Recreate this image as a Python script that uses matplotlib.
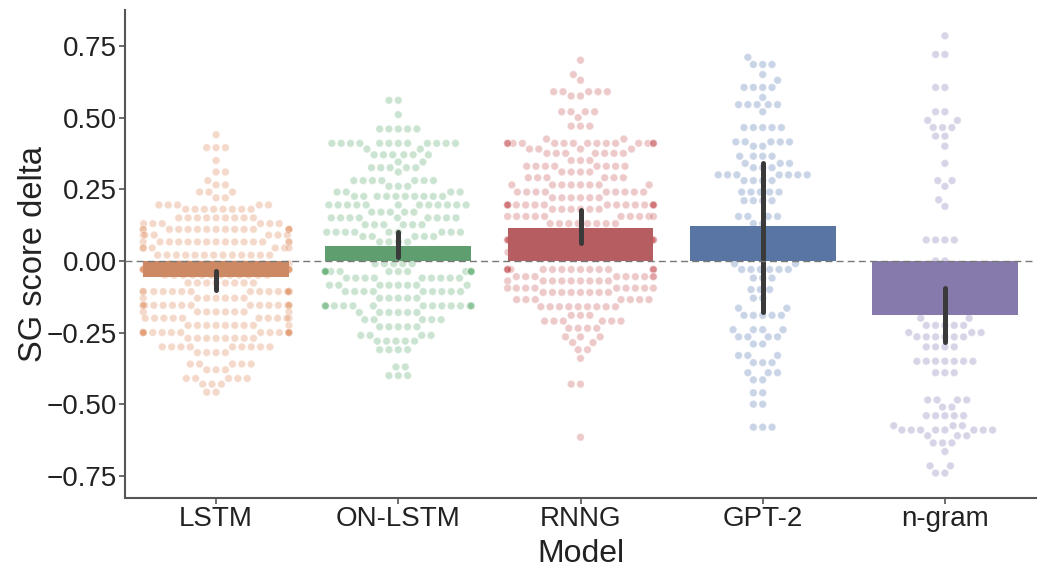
import numpy as np
import pandas as pd
import matplotlib
matplotlib.use("Agg")
import matplotlib.pyplot as plt
import seaborn as sns
import warnings
warnings.filterwarnings("ignore")

models = ["LSTM", "ON-LSTM", "RNNG", "GPT-2", "n-gram"]

# bar heights (mean) and error-bar ends
bar_means = [-0.057, 0.052, 0.115, 0.123, -0.19]
ci_low = [-0.100, 0.015, 0.063, -0.178, -0.283]
ci_high = [-0.037, 0.100, 0.178, 0.343, -0.095]

# swarm rows: value levels and number of points at each level
lstm_vals = [0.44, 0.395, 0.35, 0.31, 0.28, 0.265, 0.24, 0.22, 0.195, 0.18, 0.15, 0.13,
             0.11, 0.09, 0.066, 0.045, 0.02, -0.01, -0.03, -0.05, -0.077, -0.107, -0.13,
             -0.155, -0.178, -0.20, -0.225, -0.25, -0.27, -0.30, -0.32, -0.36, -0.38,
             -0.41, -0.43, -0.458]
lstm_counts = [1, 3, 1, 2, 1, 2, 3, 2, 5, 8, 9, 6,
               15, 6, 15, 6, 13, 12, 12, 12, 8, 15, 7,
               15, 8, 10, 9, 15, 8, 9, 4, 5, 3,
               5, 3, 2]

onlstm_vals = [0.56, 0.51, 0.46, 0.41, 0.39, 0.37, 0.345, 0.325, 0.31, 0.28, 0.26, 0.24,
               0.225, 0.195, 0.17, 0.15, 0.126, 0.10, 0.085, 0.066, 0.03, 0.01, -0.01,
               -0.037, -0.06, -0.085, -0.107, -0.13, -0.157, -0.18, -0.205, -0.23, -0.26,
               -0.28, -0.31, -0.37, -0.40]
onlstm_counts = [2, 1, 5, 12, 2, 6, 2, 5, 1, 7, 3, 4,
                 10, 12, 5, 9, 6, 9, 5, 4, 8, 6, 5,
                 15, 9, 8, 9, 5, 15, 6, 5, 5, 4,
                 5, 4, 2, 3]

rnng_vals = [0.70, 0.65, 0.63, 0.59, 0.575, 0.52, 0.50, 0.47, 0.425, 0.41, 0.39, 0.375,
             0.35, 0.33, 0.31, 0.29, 0.265, 0.24, 0.22, 0.195, 0.18, 0.155, 0.13, 0.10,
             0.073, 0.05, 0.03, 0.01, -0.03, -0.055, -0.07, -0.095, -0.11, -0.135, -0.16,
             -0.19, -0.21, -0.235, -0.265, -0.285, -0.31, -0.34, -0.43, -0.615]
rnng_counts = [1, 1, 1, 5, 2, 4, 1, 3, 2, 17, 4, 7,
               3, 8, 4, 6, 8, 9, 6, 17, 6, 10, 8, 8,
               17, 8, 8, 8, 17, 9, 9, 9, 8, 7, 9,
               3, 6, 4, 3, 2, 2, 1, 2, 1]

gpt2_vals = [0.71, 0.685, 0.65, 0.63, 0.605, 0.57, 0.545, 0.52, 0.465, 0.415, 0.40, 0.365,
             0.34, 0.325, 0.30, 0.28, 0.24, 0.21, 0.155, 0.13, 0.08, 0.03, -0.01, -0.03,
             -0.06, -0.10, -0.13, -0.165, -0.19, -0.24, -0.265, -0.29, -0.33, -0.355,
             -0.39, -0.415, -0.46, -0.50, -0.58]
gpt2_counts = [1, 3, 1, 1, 4, 1, 5, 1, 5, 5, 2, 4,
               3, 3, 7, 4, 5, 4, 4, 2, 3, 3, 2, 6,
               3, 3, 2, 2, 5, 4, 4, 2, 3, 3,
               3, 2, 2, 2, 3]

ngram_vals = [0.785, 0.72, 0.605, 0.52, 0.49, 0.465, 0.435, 0.40, 0.34, 0.28, 0.26, 0.213,
              0.19, 0.073, 0.0, -0.05, -0.10, -0.15, -0.20, -0.225, -0.25, -0.265, -0.30,
              -0.35, -0.39, -0.485, -0.51, -0.54, -0.575, -0.59, -0.61, -0.635, -0.665,
              -0.715, -0.74]
ngram_counts = [1, 2, 2, 2, 2, 3, 2, 1, 1, 2, 1, 1,
                1, 4, 2, 3, 4, 5, 2, 5, 3, 6, 4,
                7, 3, 4, 2, 5, 3, 8, 3, 3, 1,
                2, 2]

all_vals = [lstm_vals, onlstm_vals, rnng_vals, gpt2_vals, ngram_vals]
all_counts = [lstm_counts, onlstm_counts, rnng_counts, gpt2_counts, ngram_counts]

rows = []
for m, v, c in zip(models, all_vals, all_counts):
    for val in np.repeat(v, c):
        rows.append((m, val))
df = pd.DataFrame(rows, columns=["Model", "SG score delta"])

deep = sns.color_palette("deep")
base_colors = [deep[1], deep[2], deep[3], deep[0], deep[4]]
bar_colors = [sns.desaturate(c, 0.75) for c in base_colors]

plt.rcParams["font.family"] = ["Liberation Sans", "DejaVu Sans"]

fig = plt.figure(figsize=(10.38, 5.69), dpi=100)
ax = fig.add_axes([0.1204, 0.1248, 0.9981 - 0.1204, 0.9824 - 0.1248])

sns.swarmplot(data=df, x="Model", y="SG score delta", hue="Model", order=models,
              hue_order=models, palette=base_colors, size=5.5, alpha=0.3,
              edgecolor="white", linewidth=0.9, legend=False, ax=ax, zorder=1)

xpos = np.arange(len(models))
ax.bar(xpos, bar_means, width=0.8, color=bar_colors, zorder=2)
for x, lo, hi in zip(xpos, ci_low, ci_high):
    ax.plot([x, x], [lo, hi], color="#3a3a3a", lw=3.6, solid_capstyle="round", zorder=3)

ax.axhline(0, color="#777777", ls=(0, (5, 3)), lw=1.0, zorder=4)

ax.set_xlim(-0.5, 4.5)
ax.set_ylim(-0.827, 0.875)
ax.set_yticks([-0.75, -0.5, -0.25, 0.0, 0.25, 0.5, 0.75])
ax.set_yticklabels(["−0.75", "−0.50", "−0.25", "0.00", "0.25", "0.50", "0.75"])
ax.set_xticks(xpos)
ax.set_xticklabels(models)
ax.tick_params(axis="both", labelsize=20, colors="#222222", length=4.5, width=1.2, pad=1.5)
ax.tick_params(axis="both", color="#555555")
ax.set_xlabel("Model", fontsize=23, color="#222222", labelpad=5)
ax.set_ylabel("SG score delta", fontsize=23.5, color="#222222", labelpad=-2)
for s in ["top", "right"]:
    ax.spines[s].set_visible(False)
for s in ["left", "bottom"]:
    ax.spines[s].set_color("#555555")
    ax.spines[s].set_linewidth(1.5)

fig.savefig("out.png", dpi=100)
